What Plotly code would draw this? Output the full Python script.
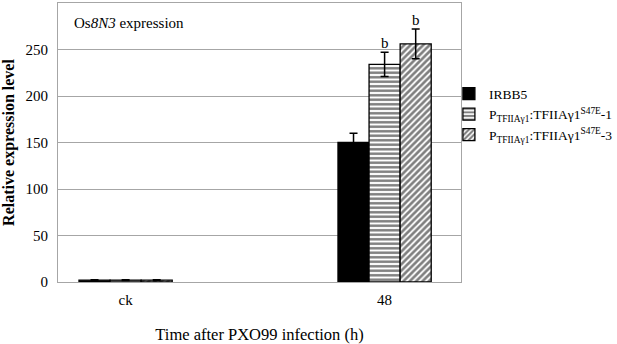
import plotly.graph_objects as go

categories = ["ck", "48"]
series_names = [
    "IRBB5",
    "P<sub>TFIIAγ1</sub>:TFIIAγ1<sup>S47E</sup>-1",
    "P<sub>TFIIAγ1</sub>:TFIIAγ1<sup>S47E</sup>-3",
]
irbb5 = [2, 150]
irbb5_err = [0.3, 10]
line1 = [2, 234]
line1_err = [0.3, 13]
line3 = [2, 256]
line3_err = [0.3, 16]
sig_labels = ["", "b", "b"]  # for the 48 h group

FONT = "Liberation Serif"
GRID = "#a6a6a6"
xpos = list(range(len(categories)))

fig = go.Figure()
styles = [
    dict(color="black", pattern=None),
    dict(color="white", pattern=dict(shape="-", fgcolor="black", bgcolor="white", size=4.5, solidity=0.55, fillmode="overlay")),
    dict(color="white", pattern=dict(shape="/", fgcolor="black", bgcolor="white", size=4.5, solidity=0.6, fillmode="overlay")),
]
for name, vals, errs, st in zip(series_names, [irbb5, line1, line3], [irbb5_err, line1_err, line3_err], styles):
    marker = dict(color=st["color"], line=dict(color="black", width=1.3))
    if st["pattern"]:
        marker["pattern"] = st["pattern"]
    fig.add_trace(go.Bar(
        x=xpos, y=vals, name=name, marker=marker,
        error_y=dict(type="data", array=errs, color="black", thickness=1.5, width=4),
    ))

# significance letters
n = len(series_names)
bw = 0.12
for i, (lab, vals, errs) in enumerate(zip(sig_labels, [irbb5, line1, line3], [irbb5_err, line1_err, line3_err])):
    if lab:
        fig.add_annotation(
            x=1 + (i - (n - 1) / 2) * bw, y=vals[1] + errs[1], text=lab,
            showarrow=False, yanchor="bottom", yshift=-1,
            font=dict(family=FONT, size=15, color="black"),
        )

fig.add_annotation(
    xref="paper", yref="paper", x=0.035, y=0.927, xanchor="left", yanchor="middle",
    text="Os<i>8N3</i> expression", showarrow=False,
    font=dict(family=FONT, size=15, color="black"),
)

fig.update_layout(
    width=617, height=344,
    margin=dict(l=58, r=156, t=3, b=62, autoexpand=False),
    paper_bgcolor="white", plot_bgcolor="white",
    barmode="group", bargap=0.64, bargroupgap=0,
    font=dict(family=FONT, size=15, color="black"),
    showlegend=True,
    legend=dict(x=0.97, y=0.73, xanchor="left", yanchor="top",
                font=dict(family=FONT, size=13.5, color="black"),
                bgcolor="rgba(0,0,0,0)", itemwidth=30, tracegroupgap=0),
)
fig.update_xaxes(
    range=[-0.261, 1.295], tickvals=xpos, ticktext=categories,
    showline=True, linecolor=GRID, linewidth=1, mirror=True,
    ticks="", showgrid=False, zeroline=False, automargin=False,
    tickfont=dict(family=FONT, size=15), ticklabelstandoff=4,
    title=dict(text="Time after PXO99 infection (h)", font=dict(family=FONT, size=16.5), standoff=22),
)
fig.update_yaxes(
    range=[0, 300], tickvals=[0, 50, 100, 150, 200, 250, 300],
    showline=True, linecolor=GRID, linewidth=1, mirror=True,
    showgrid=True, gridcolor=GRID, gridwidth=1, zeroline=False, automargin=False,
    ticks="", tickfont=dict(family=FONT, size=15), ticklabelstandoff=6,
    title=dict(text="<b>Relative expression level</b>", font=dict(family=FONT, size=16), standoff=12),
)

fig.write_html(
    "out.html",
    config={"displayModeBar": False},
    post_script="document.body.style.margin='0';document.body.style.overflow='hidden';",
)
